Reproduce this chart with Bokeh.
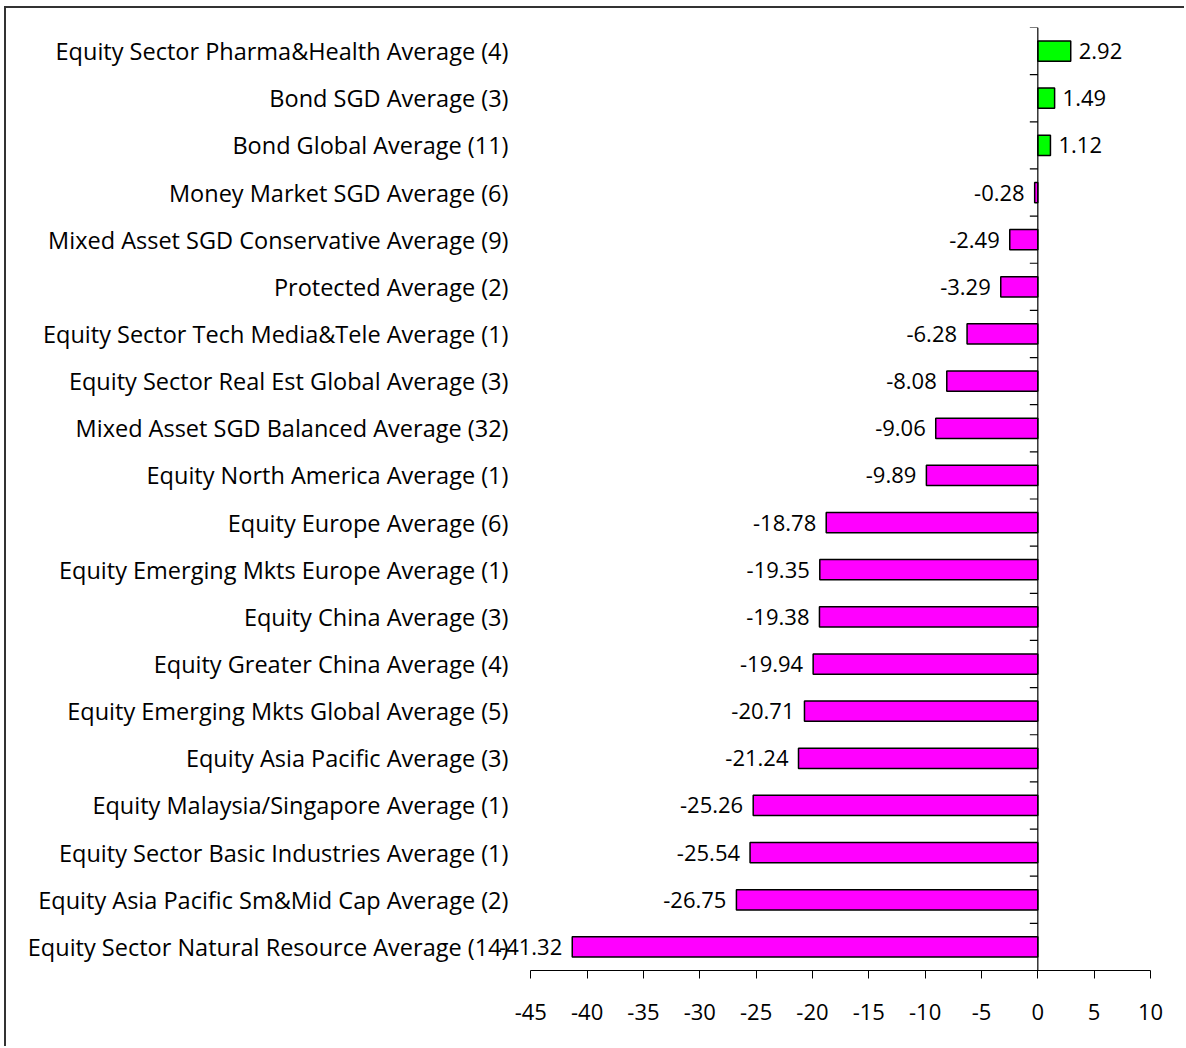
from bokeh.plotting import figure
from bokeh.models import ColumnDataSource, Range1d, FixedTicker, Span, LabelSet
from bokeh.core.properties import value
from bokeh.embed import file_html
from bokeh.resources import INLINE
import math

categories = [
    "Equity Sector Pharma&Health Average (4)",
    "Bond SGD Average (3)",
    "Bond Global Average (11)",
    "Money Market SGD Average (6)",
    "Mixed Asset SGD Conservative Average (9)",
    "Protected Average (2)",
    "Equity Sector Tech Media&Tele Average (1)",
    "Equity Sector Real Est Global Average (3)",
    "Mixed Asset SGD Balanced Average (32)",
    "Equity North America Average (1)",
    "Equity Europe Average (6)",
    "Equity Emerging Mkts Europe Average (1)",
    "Equity China Average (3)",
    "Equity Greater China Average (4)",
    "Equity Emerging Mkts Global Average (5)",
    "Equity Asia Pacific Average (3)",
    "Equity Malaysia/Singapore Average (1)",
    "Equity Sector Basic Industries Average (1)",
    "Equity Asia Pacific Sm&Mid Cap Average (2)",
    "Equity Sector Natural Resource Average (14)",
]
values = [2.92, 1.49, 1.12, -0.28, -2.49, -3.29, -6.28, -8.08, -9.06, -9.89,
          -18.78, -19.35, -19.38, -19.94, -20.71, -21.24, -25.26, -25.54, -26.75, -41.32]
x_ticks = [-45, -40, -35, -30, -25, -20, -15, -10, -5, 0, 5, 10]
x_axis_min, x_axis_max = -45, 10

FONT = "Open Sans"
n = len(categories)
pos = [n - 1 - i for i in range(n)]
colors = ["#00FF00" if v >= 0 else "#FF00FF" for v in values]

# frame extends a little left of -45 so the -41.32 label is not clipped
p = figure(width=1180, height=1040, output_backend="svg", toolbar_location=None,
           x_range=Range1d(-48.575, 10), y_range=Range1d(-0.5, n - 0.5),
           min_border_left=484, min_border_right=36, min_border_top=19, min_border_bottom=78)
p.styles = {"border-left": "2px solid #333333", "border-top": "2px solid #333333",
            "margin-left": "4px", "margin-top": "6px"}
p.outline_line_color = None
p.xgrid.visible = False
p.ygrid.visible = False

src = ColumnDataSource(dict(y=pos, right=values, color=colors))
p.hbar(y="y", left=0, right="right", height=0.43, source=src,
       fill_color="color", line_color="#000000", line_width=1.5)

# zero axis line and category boundary ticks
p.add_layout(Span(location=0, dimension="height", line_color="#000000", line_width=1.2))
bounds = [k - 0.5 for k in range(n + 1)]
p.ray(x=[0] * len(bounds), y=bounds, length=8, length_units="screen", angle=math.pi,
      line_color="#000000", line_width=1.2)

# data labels
pos_src = ColumnDataSource(dict(
    x=[v for v in values if v >= 0],
    y=[pp for pp, v in zip(pos, values) if v >= 0],
    t=["%.2f" % v for v in values if v >= 0]))
neg_src = ColumnDataSource(dict(
    x=[v for v in values if v < 0],
    y=[pp for pp, v in zip(pos, values) if v < 0],
    t=["%.2f" % v for v in values if v < 0]))
p.add_layout(LabelSet(x="x", y="y", text="t", source=pos_src, x_offset=8,
                      text_align="left", text_baseline="middle", text_font=value(FONT),
                      text_font_size="22px", text_color="#000000"))
p.add_layout(LabelSet(x="x", y="y", text="t", source=neg_src, x_offset=-10,
                      text_align="right", text_baseline="middle", text_font=value(FONT),
                      text_font_size="22px", text_color="#000000"))

# x axis
p.xaxis.bounds = (x_axis_min, x_axis_max)
p.xaxis.ticker = FixedTicker(ticks=x_ticks)
p.xaxis.major_label_overrides = {t: str(t) for t in x_ticks}
p.xaxis.minor_tick_line_color = None
p.xaxis.major_tick_in = 0
p.xaxis.major_tick_out = 8
p.xaxis.axis_line_color = "#000000"
p.xaxis.major_tick_line_color = "#000000"
p.xaxis.major_label_text_font = FONT
p.xaxis.major_label_text_font_size = "22px"
p.xaxis.major_label_text_color = "#000000"
p.xaxis.major_label_standoff = 25

# y axis (category labels)
p.yaxis.ticker = FixedTicker(ticks=pos)
p.yaxis.major_label_overrides = {pp: c for pp, c in zip(pos, categories)}
p.yaxis.axis_line_color = None
p.yaxis.major_tick_line_color = None
p.yaxis.major_tick_in = 0
p.yaxis.major_tick_out = 0
p.yaxis.minor_tick_line_color = None
p.yaxis.major_label_text_font = FONT
p.yaxis.major_label_text_font_size = "23.5px"
p.yaxis.major_label_text_color = "#000000"
p.yaxis.major_label_standoff = -18

open("out.html", "w").write(file_html(p, INLINE))
